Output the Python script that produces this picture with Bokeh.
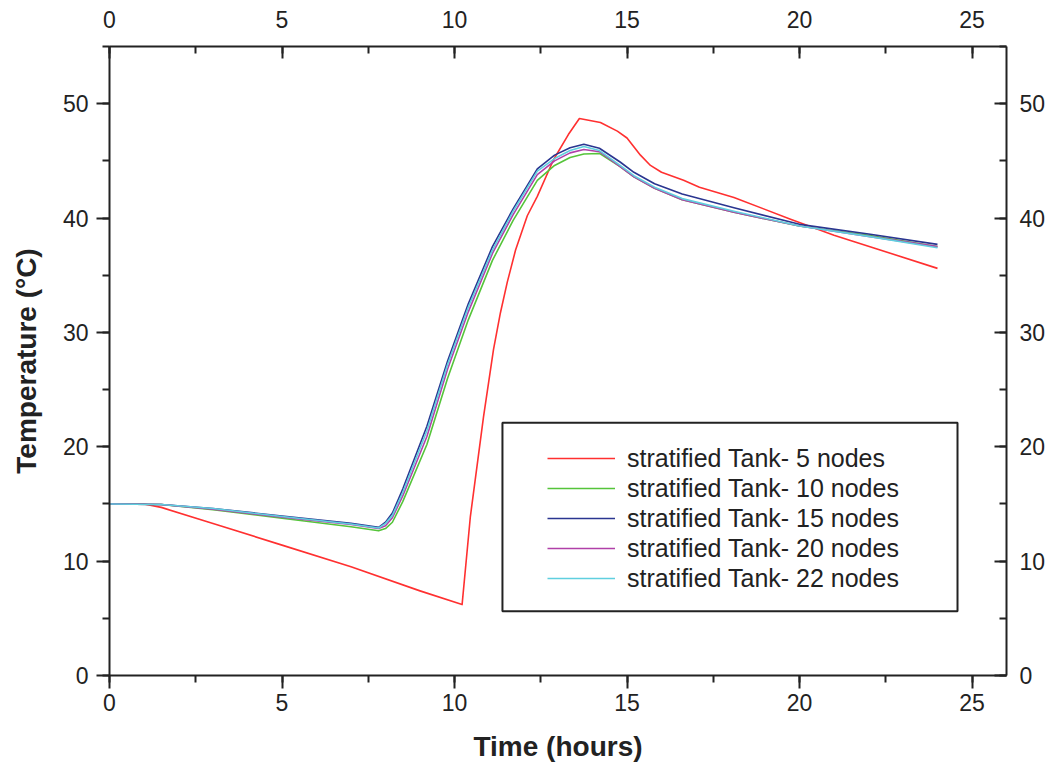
from bokeh.plotting import figure
from bokeh.models import Range1d, LinearAxis, Legend, LegendItem, BoxAnnotation, SingleIntervalTicker
from bokeh.embed import file_html
from bokeh.resources import INLINE

# ---- data ----
time_5 = [0, 1.0, 1.5, 3.0, 5.0, 7.0, 9.0, 10.22, 10.46, 10.84, 11.13, 11.33, 11.53, 11.77,
          12.11, 12.40, 12.87, 13.30, 13.62, 14.23, 14.72, 15.00, 15.39, 15.68, 16.00, 16.64,
          17.10, 18.10, 19.74, 21.00, 24.00]
temp_5 = [15.0, 15.0, 14.7, 13.3, 11.4, 9.5, 7.4, 6.2, 13.9, 22.6, 28.5, 31.7, 34.4, 37.2,
          40.2, 41.9, 45.1, 47.3, 48.7, 48.35, 47.6, 47.0, 45.5, 44.6, 44.0, 43.3,
          42.7, 41.8, 39.9, 38.5, 35.6]

time_n = [0, 1.5, 3.0, 5.0, 7.0, 7.8, 8.0, 8.2, 8.5, 9.2, 9.8, 10.4, 11.1, 11.7, 12.4, 12.9,
          13.35, 13.75, 14.2, 14.8, 15.2, 15.8, 16.6, 18.1, 20.0, 22.0, 24.0]
temp_10 = [15.0, 14.95, 14.5, 13.75, 13.0, 12.65, 12.85, 13.4, 15.2, 20.2, 26.0, 31.1, 36.3,
           39.8, 43.3, 44.6, 45.3, 45.6, 45.65, 44.5, 43.6, 42.6, 41.6, 40.5, 39.3, 38.5, 37.5]
temp_15 = [15.0, 14.95, 14.6, 13.95, 13.3, 12.95, 13.4, 14.2, 16.3, 21.8, 27.5, 32.5, 37.5,
           40.8, 44.3, 45.5, 46.15, 46.45, 46.1, 44.9, 44.0, 43.0, 42.1, 40.9, 39.45, 38.6, 37.7]
temp_20 = [15.0, 14.95, 14.55, 13.85, 13.2, 12.85, 13.1, 13.8, 15.7, 20.9, 26.8, 31.8, 36.9,
           40.3, 43.8, 45.0, 45.7, 46.0, 45.8, 44.5, 43.6, 42.6, 41.6, 40.5, 39.3, 38.4, 37.5]
temp_22 = [15.0, 14.95, 14.6, 13.9, 13.25, 12.9, 13.3, 14.0, 16.0, 21.4, 27.2, 32.2, 37.2,
           40.6, 44.1, 45.2, 45.9, 46.25, 45.9, 44.6, 43.7, 42.7, 41.7, 40.6, 39.3, 38.4, 37.4]

labels = ["stratified Tank- 5 nodes", "stratified Tank- 10 nodes", "stratified Tank- 15 nodes",
          "stratified Tank- 20 nodes", "stratified Tank- 22 nodes"]
colors = ["#ff3030", "#55c43a", "#2a3590", "#b040a8", "#5fcfdf"]

x_title = "Time (hours)"
y_title = "Temperature (°C)"

FONT = "Liberation Sans"
INK = "#222222"

p = figure(width=1050, height=766, output_backend="svg", toolbar_location=None,
           x_range=Range1d(0, 26), y_range=Range1d(0, 55),
           min_border_left=109, min_border_right=44, min_border_top=46, min_border_bottom=91)
p.xgrid.visible = False
p.ygrid.visible = False
p.outline_line_color = None
p.background_fill_color = "white"

series = [(time_5, temp_5), (time_n, temp_10), (time_n, temp_15), (time_n, temp_20), (time_n, temp_22)]
renderers = []
for (tx, ty), c in zip(series, colors):
    renderers.append(p.line(tx, ty, line_color=c, line_width=1.6, line_join="round"))

top = LinearAxis()
right = LinearAxis()
p.add_layout(top, "above")
p.add_layout(right, "right")


def style(ax, interval, outward, standoff):
    ax.ticker = SingleIntervalTicker(interval=interval, num_minor_ticks=2)
    ax.axis_line_width = 2
    ax.axis_line_color = INK
    ax.major_tick_line_width = 2
    ax.minor_tick_line_width = 2
    ax.major_tick_line_color = INK
    ax.minor_tick_line_color = INK
    if outward:
        ax.major_tick_out, ax.major_tick_in = 13, 0
        ax.minor_tick_out, ax.minor_tick_in = 7, 0
    else:
        ax.major_tick_out, ax.major_tick_in = 0, 12
        ax.minor_tick_out, ax.minor_tick_in = 0, 7
    ax.major_label_text_font = FONT
    ax.major_label_text_font_size = "23px"
    ax.major_label_text_color = INK
    ax.major_label_standoff = standoff


style(p.below[0], 5, True, 5)
style(p.left[0], 10, True, 8)
style(top, 5, False, 19)
style(right, 10, False, 13)

for ax, lab, std in [(p.below[0], x_title, 17), (p.left[0], y_title, 18)]:
    ax.axis_label = lab
    ax.axis_label_text_font = FONT
    ax.axis_label_text_font_size = "28px"
    ax.axis_label_text_font_style = "bold"
    ax.axis_label_text_color = INK
    ax.axis_label_standoff = std

# legend frame
box = BoxAnnotation(left=11.39, right=24.58, bottom=5.61, top=22.09,
                    fill_color="white", fill_alpha=1.0, line_color=INK, line_alpha=1.0,
                    line_width=2)
p.add_layout(box)

legend = Legend(items=[LegendItem(label=l, renderers=[r]) for l, r in zip(labels, renderers)],
                location=(418, 62), padding=20, spacing=0, margin=0,
                label_height=30, glyph_height=30, glyph_width=68, label_standoff=12,
                label_text_font=FONT, label_text_font_size="25px", label_text_color=INK,
                background_fill_alpha=0, border_line_alpha=0)
p.add_layout(legend)

open("out.html", "w").write(file_html(p, INLINE))
